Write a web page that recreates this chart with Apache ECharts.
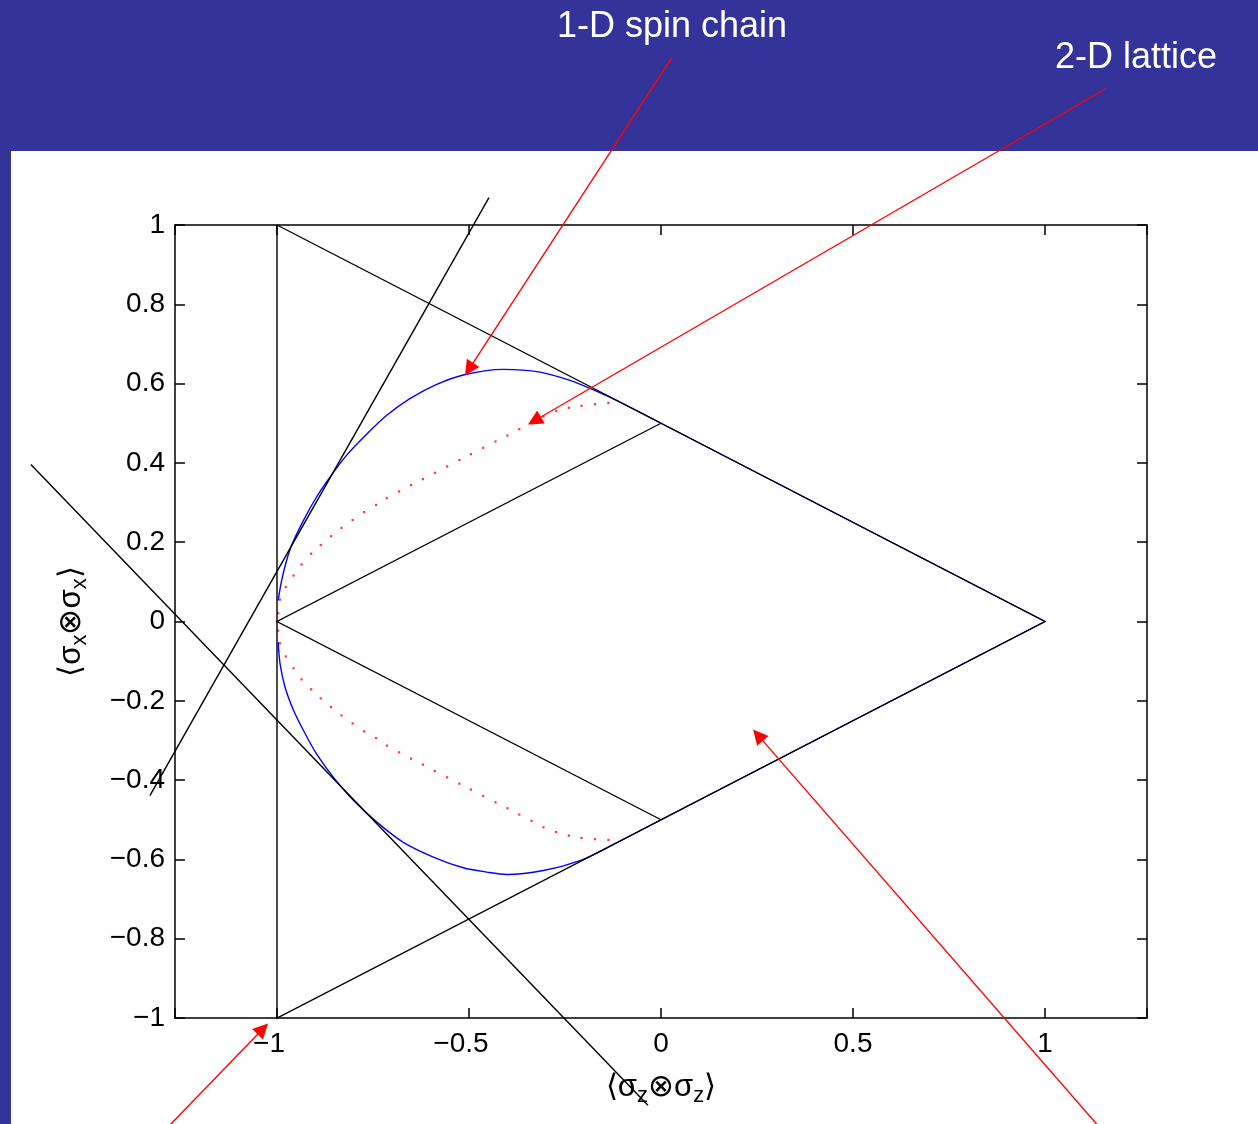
<!DOCTYPE html>
<html>
<head>
<meta charset="utf-8">
<script src="https://cdn.jsdelivr.net/npm/echarts@6/dist/echarts.min.js"></script>
<style>
  html, body { margin: 0; padding: 0; width: 1258px; height: 1124px; overflow: hidden; background: #333399; }
  #sheet { position: absolute; left: 11px; top: 151px; width: 1247px; height: 973px; background: #fff; }
  #chart { position: absolute; left: 0; top: 0; width: 1258px; height: 1124px; }
</style>
</head>
<body>
<div id="sheet"></div>
<div id="chart"></div>
<script>
// axis ranges
const xRange = [-1.2656, 1.2656];
const yRange = [-1, 1];

// black construction lines
const outerTriangle = [[-1, 1], [-1, -1], [1, 0], [-1, 1]];
const innerWedge = [[0, 0.5], [-1, 0], [0, -0.5]];
const tangentRising = [[-1.331, -0.439], [-0.448, 1.069]];
const tangentFalling = [[-1.641, 0.396], [-0.034, -1.22]];

// 1-D spin chain (blue): two curved arcs plus the part that runs on the triangle
const chainUpper = [
    [-0.997, 0.053], [-0.988, 0.103], [-0.975, 0.154], [-0.962, 0.192], [-0.931, 0.255],
    [-0.897, 0.314], [-0.862, 0.364], [-0.819, 0.419], [-0.766, 0.473], [-0.714, 0.520],
    [-0.654, 0.562], [-0.584, 0.598], [-0.510, 0.623], [-0.411, 0.636], [-0.315, 0.629],
    [-0.237, 0.608], [-0.176, 0.584], [-0.115, 0.557], [0, 0.5]
];
const chainLower = [
    [-0.997, -0.052], [-0.992, -0.107], [-0.979, -0.166], [-0.957, -0.224], [-0.931, -0.275],
    [-0.897, -0.334], [-0.853, -0.393], [-0.801, -0.451], [-0.740, -0.506], [-0.671, -0.557],
    [-0.593, -0.594], [-0.515, -0.621], [-0.454, -0.632], [-0.402, -0.638], [-0.306, -0.628],
    [-0.211, -0.603], [-0.133, -0.567], [0, -0.5]
];
const chainEdge = [[0, 0.5], [1, 0], [0, -0.5]];

// 2-D lattice (red dots)
const latticeDots = [
    [-0.137, 0.551], [-0.172, 0.548], [-0.207, 0.544], [-0.240, 0.539], [-0.273, 0.531],
    [-0.306, 0.517], [-0.337, 0.500], [-0.369, 0.485], [-0.400, 0.469], [-0.431, 0.454],
    [-0.463, 0.438], [-0.495, 0.422], [-0.525, 0.407], [-0.557, 0.391], [-0.589, 0.375],
    [-0.620, 0.359], [-0.651, 0.344], [-0.682, 0.328], [-0.714, 0.311], [-0.742, 0.294],
    [-0.773, 0.276], [-0.803, 0.256], [-0.832, 0.236], [-0.859, 0.215], [-0.886, 0.193],
    [-0.911, 0.171], [-0.936, 0.144], [-0.957, 0.116], [-0.977, 0.087], [-0.992, 0.055],
    [-0.997, 0.021], [-0.997, -0.023], [-0.992, -0.055], [-0.977, -0.088], [-0.957, -0.118],
    [-0.936, -0.146], [-0.911, -0.171], [-0.886, -0.194], [-0.859, -0.216], [-0.832, -0.237],
    [-0.803, -0.257], [-0.773, -0.277], [-0.742, -0.294], [-0.714, -0.313], [-0.682, -0.330],
    [-0.651, -0.346], [-0.620, -0.361], [-0.589, -0.377], [-0.557, -0.393], [-0.525, -0.409],
    [-0.495, -0.424], [-0.463, -0.440], [-0.431, -0.456], [-0.400, -0.471], [-0.369, -0.487],
    [-0.337, -0.503], [-0.306, -0.519], [-0.273, -0.531], [-0.240, -0.540], [-0.207, -0.546],
    [-0.172, -0.549], [-0.137, -0.551]
];

// annotation arrows: [tail, tip]
const arrowSpinChain = [[0.0286, 1.4225], [-0.5104, 0.6204]];
const arrowLattice = [[1.1589, 1.3443], [-0.3464, 0.4968]];
const arrowCorner = [[-1.3427, -1.334], [-1.0234, -1.0139]];
const arrowRegion = [[1.1943, -1.334], [0.2396, -0.2724]];
const arrowList = [arrowSpinChain, arrowLattice, arrowCorner, arrowRegion];

const headerLabels = ['1-D spin chain', '2-D lattice'];

const font = '"Liberation Sans", Arial, Helvetica, sans-serif';
const headLen = 15;
const myChart = echarts.init(document.getElementById('chart'), null, { renderer: 'canvas' });

function minus(v) {
    return String(v).replace('-', '\u2212');
}

// lines series so the segments may run past the axes box
function blackLines(polylines) {
    return {
        type: 'lines',
        coordinateSystem: 'cartesian2d',
        polyline: true,
        clip: false,
        z: 3,
        lineStyle: { color: '#000', width: 1.4, opacity: 1 },
        silent: true,
        data: polylines.map(function (p) {
            return { coords: p };
        })
    };
}

function blueLine(points, smooth) {
    return {
        type: 'line',
        data: points,
        showSymbol: false,
        smooth: smooth,
        z: 2,
        lineStyle: { color: '#0000ff', width: 1.4 },
        silent: true
    };
}

const axisStyle = { onZero: false, lineStyle: { color: '#000', width: 1.5 } };
const tickStyle = { inside: true, length: 10, lineStyle: { color: '#000', width: 1.5 } };
const subRich = {
    t: { fontSize: 31, fontFamily: font, color: '#000' },
    s: { fontSize: 22, fontFamily: font, color: '#000', padding: [17, 0, 0, 0] }
};

const option = {
    animation: false,
    backgroundColor: 'transparent',
    grid: { left: 175, right: 111, top: 225, bottom: 106 },
    xAxis: [{
        type: 'value',
        min: xRange[0],
        max: xRange[1],
        splitNumber: 5,
        minInterval: 0.5,
        maxInterval: 0.5,
        position: 'bottom',
        axisLine: axisStyle,
        axisTick: tickStyle,
        splitLine: { show: false },
        axisLabel: {
            color: '#000',
            fontSize: 28,
            fontFamily: font,
            margin: 12,
            formatter: function (v) {
                if (Math.abs(v * 2 - Math.round(v * 2)) > 1e-6) return '';
                if (v < 0) return '{neg|' + minus(v) + '}';
                return String(v);
            },
            rich: { neg: { fontSize: 28, fontFamily: font, color: '#000', padding: [0, 16, 0, 0] } }
        },
        name: '{t|\u27e8\u03c3}{s|z}{t|\u2297\u03c3}{s|z}{t|\u27e9}',
        nameLocation: 'middle',
        nameGap: 50,
        nameTextStyle: { rich: subRich }
    }, {
        type: 'value',
        min: xRange[0],
        max: xRange[1],
        splitNumber: 5,
        minInterval: 0.5,
        maxInterval: 0.5,
        position: 'top',
        axisLine: axisStyle,
        axisTick: tickStyle,
        splitLine: { show: false },
        axisLabel: { show: false }
    }],
    yAxis: [{
        type: 'value',
        min: yRange[0],
        max: yRange[1],
        interval: 0.2,
        position: 'left',
        axisLine: axisStyle,
        axisTick: tickStyle,
        splitLine: { show: false },
        axisLabel: {
            color: '#000',
            fontSize: 28,
            fontFamily: font,
            margin: 10,
            formatter: function (v) {
                return minus(Math.round(v * 10) / 10);
            }
        },
        name: '{t|\u27e8\u03c3}{s|x}{t|\u2297\u03c3}{s|x}{t|\u27e9}',
        nameLocation: 'middle',
        nameGap: 84,
        nameTextStyle: { rich: subRich }
    }, {
        type: 'value',
        min: yRange[0],
        max: yRange[1],
        interval: 0.2,
        position: 'right',
        axisLine: axisStyle,
        axisTick: tickStyle,
        splitLine: { show: false },
        axisLabel: { show: false }
    }],
    graphic: [{
        type: 'text',
        x: 672,
        y: 27,
        style: { text: headerLabels[0], fill: '#fff', font: '36px ' + font, textAlign: 'center', textVerticalAlign: 'middle' }
    }, {
        type: 'text',
        x: 1136,
        y: 58,
        style: { text: headerLabels[1], fill: '#fff', font: '36px ' + font, textAlign: 'center', textVerticalAlign: 'middle' }
    }],
    series: [
        blueLine(chainUpper, 0.3),
        blueLine(chainLower, 0.3),
        blueLine(chainEdge, false),
        {
            name: '2-D lattice',
            type: 'scatter',
            data: latticeDots,
            symbol: 'rect',
            symbolSize: 2.2,
            z: 2,
            itemStyle: { color: '#ff0000' },
            silent: true
        },
        blackLines([outerTriangle, innerWedge, tangentRising, tangentFalling]),
        {
            id: 'arrows',
            type: 'lines',
            coordinateSystem: 'cartesian2d',
            clip: false,
            z: 4,
            symbol: ['none', 'triangle'],
            symbolSize: [12, headLen],
            lineStyle: { color: '#ff0000', width: 1.4, opacity: 1 },
            itemStyle: { color: '#ff0000' },
            silent: true,
            data: arrowList.map(function (a) {
                return { coords: a };
            })
        }
    ]
};

myChart.setOption(option);

// the triangle head is centred on the end point, so pull the end back half a head
const finder = { seriesIndex: 0 };
const arrowData = arrowList.map(function (a) {
    const p0 = myChart.convertToPixel(finder, a[0]);
    const p1 = myChart.convertToPixel(finder, a[1]);
    const dx = p1[0] - p0[0];
    const dy = p1[1] - p0[1];
    const len = Math.sqrt(dx * dx + dy * dy);
    const end = [p1[0] - dx / len * headLen / 2, p1[1] - dy / len * headLen / 2];
    return { coords: [a[0], myChart.convertFromPixel(finder, end)] };
});
myChart.setOption({ series: [{ id: 'arrows', data: arrowData }] });
</script>
</body>
</html>
